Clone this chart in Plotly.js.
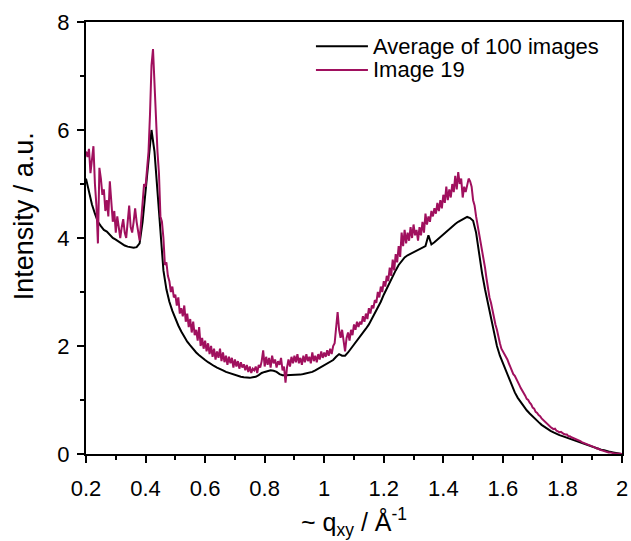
<!DOCTYPE html>
<html>
<head>
<meta charset="utf-8">
<script src="https://cdn.plot.ly/plotly-3.0.1.min.js"></script>
<style>html,body{margin:0;padding:0;background:#fff;}#chart{width:631px;height:541px;}</style>
</head>
<body>
<div id="chart"></div>
<script>
// Average of 100 images, q from 0.20 to 2.00 in steps of 0.01
const avgQStart = 0.2, avgQStep = 0.01;
const avgA = [5.10,4.85,4.62,4.45,4.30,4.22,4.15,4.12,4.05,4.00,3.97,3.93,3.90,3.86,3.84,3.83,3.82,3.83,3.90,4.30,4.85];
const avgB = [5.45,6.00,5.60,4.80,4.00,3.40,3.05,2.82,2.65,2.50,2.38,2.27,2.17,2.08,2.01,1.94,1.88,1.83,1.78,1.74];
const avgC = [1.70,1.66,1.63,1.60,1.58,1.55,1.52,1.50,1.48,1.46,1.44,1.43,1.42,1.41,1.41,1.42,1.43,1.46,1.50,1.52,1.54,1.55,1.54,1.52,1.48,1.46,1.46,1.46,1.46,1.46,1.46,1.47,1.48,1.49,1.50,1.52,1.55,1.58,1.61,1.64];
const avgD = [1.67,1.70,1.74,1.80,1.85,1.82,1.82,1.88,1.95,2.02,2.09,2.16,2.24,2.32,2.40,2.50,2.60,2.71,2.82,2.95,3.07,3.18,3.29,3.40,3.50,3.58,3.64,3.68,3.71,3.74,3.77,3.80,3.83,3.85,4.05,3.88,3.92,3.97,4.02,4.07,4.12,4.17,4.22,4.26,4.30,4.33,4.36,4.39,4.37,4.32];
const avgE = [4.10,3.70,3.35,3.05,2.80,2.50,2.24,2.00,1.82,1.68,1.54,1.40,1.26,1.14,1.04,0.96,0.88,0.81,0.75,0.69,0.64,0.59,0.54,0.50,0.46,0.43,0.40,0.37,0.35,0.33,0.31,0.29,0.27,0.25,0.23,0.21,0.19,0.17,0.15,0.13,0.11,0.10,0.08,0.07,0.05,0.04,0.03,0.02,0.01,0.00];

// Image 19, q from 0.200 to 2.000 in steps of 0.005
const imgQStart = 0.2, imgQStep = 0.005;
const imgA = [5.6,5.5,5.65,5.2,5.45,5.7,5.0,4.6,3.9,5.3,5.1,4.8,4.9,4.5,4.7,4.4,5.05,4.6,4.3,4.5,4.1,4.4,4.2,4.0,4.2,4.35,4.1,4.0,4.3,4.6,4.2,4.1,4.3,4.55,4.3,4.1,3.95,4.3,4.7,5.0,4.95];
const imgB = [5.3,5.6,6.3,7.2,7.5,6.8,6.2,5.6,5.2,4.4,4.3,4.0,3.5,3.55,3.3,3.2,3.0,3.1,2.9,2.95];
const imgC = [2.75,2.9,2.6,2.7,2.55,2.75,2.45,2.6,2.35,2.5,2.25,2.45,2.2,2.3,2.1,2.35,2.0,2.15,1.95,2.1,1.9,2.05,1.85,2.0,1.8,1.95,1.75,1.9,1.78,1.95,1.72,1.88,1.7,1.82,1.65,1.8,1.68,1.78,1.6,1.75];
const imgD = [1.62,1.72,1.58,1.7,1.6,1.66,1.55,1.65,1.52,1.62,1.5,1.58,1.55,1.62,1.5,1.65,1.6,1.72,1.92,1.62,1.8,1.65,1.78,1.6,1.82,1.68,1.75,1.6,1.72,1.65,1.78,1.55,1.62,1.32,1.6,1.75,1.62,1.8,1.68,1.82,1.7,1.85,1.68,1.78,1.65,1.82,1.7,1.85,1.72,1.8,1.68,1.88,1.72,1.82,1.7,1.85,1.75,1.9,1.78,1.88];
const imgE = [1.8,1.92,1.82,1.95,1.85,2.0,2.05,2.35,2.63,2.3,2.15,2.3,2.05,1.9,2.15,2.25,2.1,2.3,2.2,2.4,2.3,2.45,2.35,2.45,2.4,2.55,2.45,2.6,2.5,2.7,2.6,2.75,2.7,2.85,2.8,3.0,2.9,3.1,3.0,3.2];
const imgF = [3.1,3.3,3.2,3.45,3.3,3.6,3.4,3.7,3.55,3.85,3.65,4.1,3.85,4.15,3.9,4.1,3.95,4.2,4.0,4.25,4.05,4.15,3.95,4.2,4.05,4.3,4.1,4.45,4.25,4.4,4.3,4.5,4.4,4.55,4.45,4.65,4.5,4.7,4.55,4.8,4.65,4.95,4.7,4.9,4.75,5.0,4.85,5.15,4.9,5.22,5.0,5.1,4.75,4.95,4.85,5.0,5.1,5.05,4.95,4.7];
const imgG = [4.6,4.4,4.25,4.1,3.9,3.75,3.6,3.45,3.25,3.05,2.9,2.8,2.65,2.5,2.4,2.3,2.15,2.05,1.95,1.9];
const imgH = [1.85,1.82,1.75,1.68,1.6,1.55,1.48,1.45,1.4,1.33,1.28,1.22,1.18,1.12,1.08,1.02,1.0,0.95,0.92,0.86,0.84,0.78,0.76,0.72,0.7,0.66,0.63,0.6,0.58,0.55,0.52,0.5,0.48,0.46,0.47,0.43,0.42,0.4,0.41,0.38,0.37,0.36,0.36,0.33,0.33,0.31,0.3,0.29,0.28,0.27,0.25,0.24,0.22,0.21,0.2,0.19,0.17,0.16,0.15,0.14,0.13,0.12,0.1,0.1,0.08,0.07,0.06,0.06,0.05,0.04,0.03,0.03,0.02,0.02,0.01,0.01,0.01,0.0,0.0,0.0];

const seriesNames = ["Average of 100 images", "Image 19"];
const seriesColors = ["#000000", "#A0105E"];
const xTickVals = [0.2,0.4,0.6,0.8,1.0,1.2,1.4,1.6,1.8,2.0];
const xTickText = ["0.2","0.4","0.6","0.8","1","1.2","1.4","1.6","1.8","2"];
const yTickVals = [0,2,4,6,8];
const xTitle = "~ q<sub>xy</sub> / Å<sup>-1</sup>";
const yTitle = "Intensity / a.u.";

const avg = [].concat(avgA, avgB, avgC, avgD, avgE);
const img = [].concat(imgA, imgB, imgC, imgD, imgE, imgF, imgG, imgH);

const font = "Liberation Sans, Arial, sans-serif";

const traces = [
  {type: "scatter", mode: "lines", name: seriesNames[0], x0: avgQStart, dx: avgQStep, y: avg,
   line: {color: seriesColors[0], width: 2}},
  {type: "scatter", mode: "lines", name: seriesNames[1], x0: imgQStart, dx: imgQStep, y: img,
   line: {color: seriesColors[1], width: 2}}
];

const axisCommon = {
  showline: true, linecolor: "#000", linewidth: 2, mirror: true,
  ticks: "outside", ticklen: 7, tickwidth: 2, tickcolor: "#000",
  showgrid: false, zeroline: false,
  tickfont: {family: font, size: 22, color: "#000"}
};

// manual legend (line samples + labels) in the upper right of the plot
const legendRows = [0.944, 0.889];
const shapes = seriesNames.map((n, i) => ({
  type: "line", xref: "paper", yref: "paper", x0: 0.429, x1: 0.526, y0: legendRows[i], y1: legendRows[i],
  line: {color: seriesColors[i], width: 2}
}));
const annotations = seriesNames.map((n, i) => ({
  text: n, xref: "paper", yref: "paper", x: 0.532, y: legendRows[i], xanchor: "left", yanchor: "middle",
  showarrow: false, font: {family: font, size: 22, color: "#000"}
}));
// axis titles placed as in the reference
annotations.push({
  text: xTitle, xref: "paper", yref: "paper", x: 0.5, y: -0.157, xanchor: "center", yanchor: "middle",
  showarrow: false, font: {family: font, size: 25, color: "#000"}
});
annotations.push({
  text: yTitle, xref: "paper", yref: "paper", x: -0.115, y: 0.551, xanchor: "center", yanchor: "middle",
  textangle: -90, showarrow: false, font: {family: font, size: 27, color: "#000"}
});

const layout = {
  width: 631, height: 541,
  margin: {l: 86, r: 9, t: 22, b: 87},
  paper_bgcolor: "#fff", plot_bgcolor: "#fff",
  font: {family: font, color: "#000"},
  showlegend: false,
  shapes: shapes,
  annotations: annotations,
  xaxis: Object.assign({}, axisCommon, {
    range: [0.2, 2.0], tickmode: "array", tickvals: xTickVals, ticktext: xTickText,
    ticklabelstandoff: 7,
    minor: {dtick: 0.1, ticklen: 4, tickwidth: 2, tickcolor: "#000", ticks: "outside", showgrid: false}
  }),
  yaxis: Object.assign({}, axisCommon, {
    range: [0, 8], tickmode: "array", tickvals: yTickVals,
    ticklabelstandoff: 3,
    minor: {dtick: 1, ticklen: 4, tickwidth: 2, tickcolor: "#000", ticks: "outside", showgrid: false}
  })
};

Plotly.newPlot("chart", traces, layout, {displayModeBar: false, staticPlot: true});
</script>
</body>
</html>
